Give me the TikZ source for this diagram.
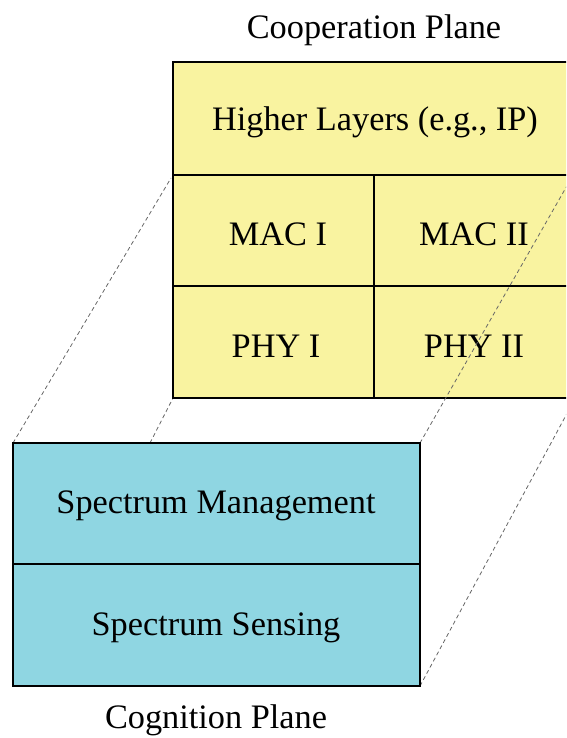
\documentclass[tikz,border=0pt]{standalone}
\usepackage{fontspec}
\setmainfont{Liberation Serif}
\definecolor{coopyellow}{RGB}{249,243,160}
\definecolor{cogblue}{RGB}{143,214,226}
\begin{document}
\begin{tikzpicture}[x=1pt,y=-1pt,
  frame/.style={draw=black,line width=2.8pt},
  guide/.style={draw=black!60,line width=0.8pt,dash pattern=on 4pt off 3pt},
  label/.style={inner sep=0pt,font=\fontsize{34.3}{41}\selectfont},
  title/.style={inner sep=0pt,font=\fontsize{34.3}{41}\selectfont}]
\useasboundingbox (0,0) rectangle (566,738);
\clip (0,0) rectangle (566,738);

% projection guides running behind the cooperation plane
\coordinate (gA) at (13,443);
\coordinate (gAe) at (171,178);
\coordinate (gB) at (150,443);
\coordinate (gBe) at (173,398);
\coordinate (gD) at (420,686);
\coordinate (gDe) at (578,393);
\draw[guide] (gA) -- (gAe);
\draw[guide] (gB) -- (gBe);
\draw[guide] (gD) -- (gDe);

% cooperation plane
\fill[coopyellow] (173,62) rectangle (590,398);
\draw[frame] (590,62) -- (173,62) -- (173,398) -- (590,398);
\draw[frame] (173,175) -- (590,175);
\draw[frame] (173,286) -- (590,286);
\draw[frame] (374,175) -- (374,398);

\node[label] (higher) at (375,122) {Higher Layers (e.g., IP)};
\node[label] (mac1) at (278,234) {MAC I};
\node[label] (mac2) at (474,234) {MAC II};
\node[label] (phy1) at (276,346) {PHY I};
\node[label] (phy2) at (474,346) {PHY II};

% guide drawn across the cooperation plane
\coordinate (gC) at (420,443);
\coordinate (gCe) at (576,170);
\draw[guide] (gC) -- (gCe);

% cognition plane
\fill[cogblue] (13,443) rectangle (420,686);
\draw[frame] (13,443) rectangle (420,686);
\draw[frame] (13,564) -- (420,564);
\node[label] (mgmt) at (216,506) {Spectrum Management};
\node[label] (sense) at (216,628) {Spectrum Sensing};

% plane titles
\node[title] (coop) at (374,30) {Cooperation Plane};
\node[title] (cog) at (216,720) {Cognition Plane};
\end{tikzpicture}
\end{document}
